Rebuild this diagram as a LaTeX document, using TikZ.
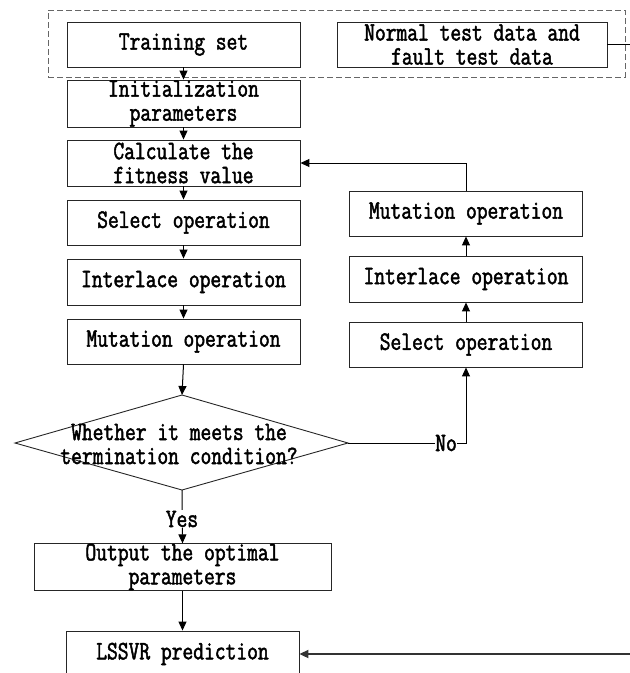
\documentclass[tikz,border=0pt]{standalone}
\usepackage{fontspec}
\setmonofont{Latin Modern Mono}[FakeStretch=0.79,FakeBold=1.8]
\usetikzlibrary{arrows.meta}
\begin{document}
\begin{tikzpicture}[x=1pt,y=-1pt,
  txt/.style={font=\ttfamily\fontsize{26.5pt}{24pt}\selectfont},
  box/.style={txt,draw=black!85,line width=0.9pt,minimum width=233pt,minimum height=45pt,inner sep=0pt,align=center},
  arr/.style={-{Triangle[length=9pt,width=8pt]},line width=1pt},
  lab/.style={txt,fill=white,inner sep=0.5pt}]
\useasboundingbox (0,0) rectangle (630,673);
\clip (0,0) rectangle (630,673);
% group
\node (group) [draw=black!60,line width=0.9pt,dash pattern=on 6pt off 3pt,minimum width=577pt,minimum height=67pt,inner sep=0pt] at (336.5,43.5) {};
\node (train) [box] at (183.5,44.5) {Training set};
\node (normal) [box,minimum width=270pt] at (472,44.5) {Normal test data and\\fault test data};
\node (init) [box,minimum height=47pt] at (183.5,103.5) {Initialization\\parameters};
\node (calc) [box,minimum height=46pt] at (183.5,163) {Calculate the\\fitness value};
\node (sel) [box] at (183.5,222.5) {Select operation};
\node (inter) [box,minimum height=46pt] at (183.5,282) {Interlace operation};
\node (mut) [box] at (183.5,341.5) {Mutation operation};
\node (rmut) [box] at (466,213.5) {Mutation operation};
\node (rint) [box,minimum height=46pt] at (466,279) {Interlace operation};
\node (rsel) [box] at (466,344.5) {Select operation};
% diamond
\coordinate (dtop) at (182,395);
\coordinate (dleft) at (15,443);
\coordinate (dright) at (348,443);
\coordinate (dbot) at (182,490);
\draw[draw=black!85,line width=0.9pt] (dtop) -- (dright) -- (dbot) -- (dleft) -- cycle;
\node (dtext) [txt,align=center,inner sep=0pt] at (179,444) {Whether it meets the\\termination condition?};
\node (output) [box,minimum width=297pt,minimum height=46pt] at (182.5,567) {Output the optimal\\parameters};
\node (lssvr) [box,minimum height=46pt] at (182.5,654) {LSSVR prediction};
% connectors
\draw[arr] (train) -- (init);
\draw[arr] (init) -- (calc);
\draw[arr] (calc) -- (sel);
\draw[arr] (sel) -- (inter);
\draw[arr] (inter) -- (mut);
\draw[arr] (mut.south) -- (dtop);
\draw[arr] (dright) -| (rsel.south);
\node (no) [lab] at (446,443) {No};
\draw[arr] (rsel) -- (rint);
\draw[arr] (rint) -- (rmut);
\draw[arr] (rmut.north) |- (calc.east);
\draw[arr] (dbot) -- (output.north);
\node (yes) [lab] at (182,519) {Yes};
\draw[arr] (output) -- (lssvr);
\coordinate (rt) at (630,44.5);
\draw[line width=0.9pt] (normal.east) -- (rt);
\coordinate (rb) at (630,654);
\draw[arr,line width=2pt,draw=black!80] (rb) -- (lssvr.east);
\end{tikzpicture}
\end{document}
